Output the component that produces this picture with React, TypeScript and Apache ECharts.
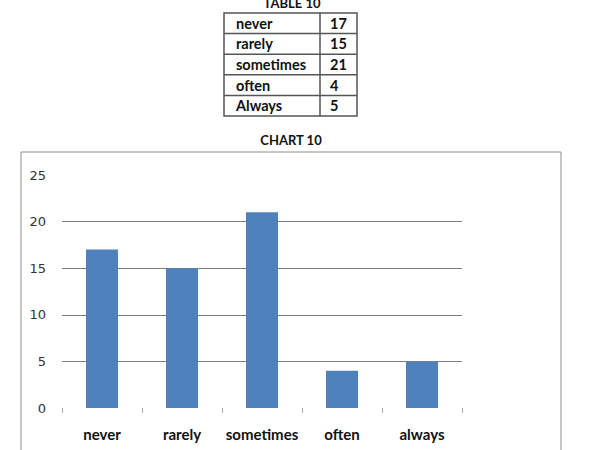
import React, { useEffect, useRef } from "react";
import * as echarts from "echarts";

const categories = ["never", "rarely", "sometimes", "often", "always"];
const values = [17, 15, 21, 4, 5];
const tableLabels = ["never", "rarely", "sometimes", "often", "Always"];
const tableValues = [17, 15, 21, 4, 5];
const yTicks = { min: 0, max: 25, interval: 5 };

export default function App() {
  const ref = useRef<HTMLDivElement>(null);
  useEffect(() => {
    if (!ref.current) return;
    const chart = echarts.init(ref.current, null, { renderer: "svg" });
    const font = "Lato, 'Open Sans', sans-serif";
    const tX = 224, tY = 13, tW = 133, rowH = 20.6, divX = 320;
    const tableGraphics: any[] = [
      {
        type: "rect",
        shape: { x: tX, y: tY, width: tW, height: rowH * tableLabels.length },
        style: { fill: "#fff", stroke: "#555", lineWidth: 1.5 },
      },
      {
        type: "line",
        shape: { x1: divX, y1: tY, x2: divX, y2: tY + rowH * tableLabels.length },
        style: { stroke: "#555", lineWidth: 1.5 },
      },
    ];
    for (let i = 1; i < tableLabels.length; i++) {
      tableGraphics.push({
        type: "line",
        shape: { x1: tX, y1: tY + rowH * i, x2: tX + tW, y2: tY + rowH * i },
        style: { stroke: "#555", lineWidth: 1.5 },
      });
    }
    tableLabels.forEach((lab, i) => {
      tableGraphics.push({
        type: "text",
        x: 236,
        y: tY + rowH * i + rowH / 2,
        style: { text: lab, font: `bold 14.5px ${font}`, fill: "#111", textVerticalAlign: "middle" },
      });
      tableGraphics.push({
        type: "text",
        x: 330,
        y: tY + rowH * i + rowH / 2,
        style: { text: String(tableValues[i]), font: `bold 14.5px ${font}`, fill: "#111", textVerticalAlign: "middle" },
      });
    });
    chart.setOption({
      animation: false,
      grid: { left: 62, right: 145, top: 175, bottom: 42, containLabel: false },
      graphic: [
        {
          type: "rect",
          shape: { x: 21, y: 152, width: 540, height: 320 },
          style: { fill: "none", stroke: "#8c8c8c", lineWidth: 1 },
          z: -1,
        },
        {
          type: "text",
          x: 292,
          y: 3,
          style: { text: "TABLE 10", font: `bold 13px ${font}`, fill: "#111", textAlign: "center", textVerticalAlign: "middle" },
        },
        {
          type: "text",
          x: 291,
          y: 140,
          style: { text: "CHART 10", font: `bold 13px ${font}`, fill: "#111", textAlign: "center", textVerticalAlign: "middle" },
        },
        ...tableGraphics,
      ],
      xAxis: {
        type: "category",
        data: categories,
        axisLine: { show: false },
        axisTick: { show: true, length: 5, lineStyle: { color: "#aaa" } },
        axisLabel: { interval: 0, margin: 18, fontSize: 15, fontWeight: "bold", color: "#111", fontFamily: font },
      },
      yAxis: {
        type: "value",
        min: yTicks.min,
        max: yTicks.max,
        interval: yTicks.interval,
        axisLine: { show: false },
        axisTick: { show: false },
        axisLabel: { margin: 16, fontSize: 13, color: "#333", fontFamily: "'DejaVu Sans', sans-serif" },
        splitLine: { show: true, showMinLine: false, showMaxLine: false, lineStyle: { color: "#7f7f7f", width: 1 } },
      },
      series: [
        {
          type: "bar",
          data: values,
          barWidth: "40%",
          itemStyle: { color: "#4F81BD" },
        },
      ],
    });
    return () => chart.dispose();
  }, []);
  return (
    <div
      ref={ref}
      style={{ position: "fixed", left: 0, top: 0, width: 607, height: 450, background: "#fff" }}
    />
  );
}
